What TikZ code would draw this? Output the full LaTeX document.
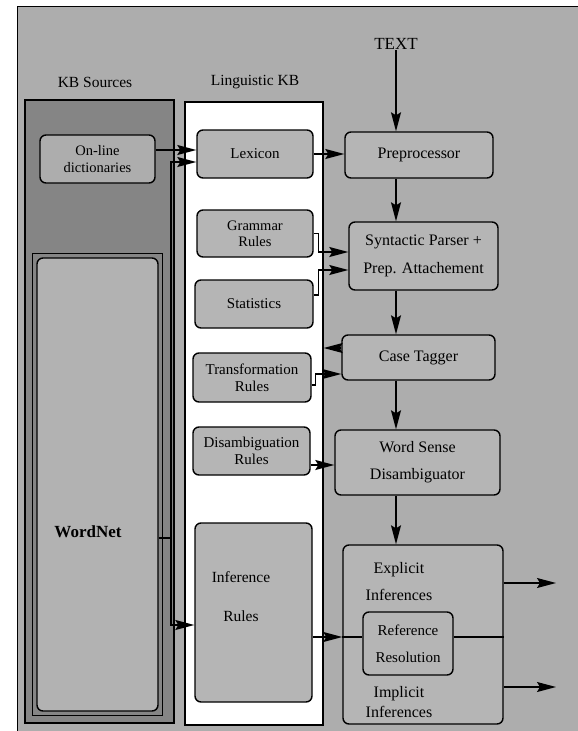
\documentclass[tikz,border=0pt]{standalone}
\usepackage{fontspec}
\setmainfont{Liberation Serif}
\usetikzlibrary{arrows.meta,calc,fit}
\definecolor{bgc}{gray}{0.68}
\definecolor{kbc}{gray}{0.52}
\definecolor{boxc}{gray}{0.71}
\definecolor{wnc}{gray}{0.70}
\begin{document}
\begin{tikzpicture}[x=1pt,y=-1pt,
  sz/.style 2 args={minimum width=#1pt, minimum height=#2pt},
  box/.style={draw, line width=1.4pt, rounded corners=6pt, fill=boxc, align=center, inner sep=0pt, font=\fontsize{15}{17}\selectfont},
  big/.style={font=\fontsize{16}{18}\selectfont},
  small/.style={font=\fontsize{14.5}{16}\selectfont},
  arr/.style={line width=1.3pt, -{Stealth[length=19pt,width=10pt,inset=3pt]}},
  ln/.style={line width=1.3pt},
  lbl/.style={font=\fontsize{15.5}{18}\selectfont, inner sep=0pt, align=center}]

\useasboundingbox (0,0) rectangle (578,731);
\fill[bgc] (17,6) rectangle (578,731);
\draw[line width=1pt] (17,731) -- (17,6) -- (578,6);

% column frames
\node[draw, line width=1.3pt, fill=kbc, sz={149}{623}] (kbsrc) at (99.5,411.5) {};
\node[draw, line width=1.3pt, fill=white, sz={138}{623}] (ling) at (254,413.5) {};

% labels
\node[lbl] (kbsrclbl) at (95,82) {KB Sources};
\node[lbl] (linglbl) at (255,82) {Linguistic KB};
\node[lbl, font=\fontsize{17}{20}\selectfont] (text) at (396,44) {TEXT};

% KB sources
\node[box, small, sz={115}{48}, fill=bgc] (online) at (97.5,159) {On-line\\[1pt]dictionaries};
\node[box, sz={121}{453}, fill=wnc] (wordnet) at (97.5,484.5) {};
\node[draw, line width=1.3pt, fit=(wordnet), inner sep=4pt] (wnframe) {};
\node[lbl, font=\bfseries\fontsize{17}{20}\selectfont] (wnlbl) at (88,532) {WordNet};

% Linguistic KB
\node[box, sz={116}{48}] (lexicon) at (255,154) {Lexicon};
\node[box, small, sz={116}{47}] (grammar) at (255,233.5) {Grammar\\Rules};
\node[box, sz={118}{48}] (stats) at (254,304) {Statistics};
\node[box, sz={118}{49}] (trans) at (252,377.5) {Transformation\\Rules};
\node[box, sz={117}{48}] (disamb) at (251.5,451) {Disambiguation\\Rules};
\node[box, sz={117}{179}] (infrules) at (253.5,612.5) {};
\node[lbl] (infrulestxt) at (241,597) {Inference\\[21pt]Rules};

% processing chain
\node[box, big, sz={148}{46}] (preproc) at (419,155) {Preprocessor};
\node[box, big, sz={149}{68}] (parser) at (423.5,256) {Syntactic Parser +\\[10pt]Prep. Attachement};
\node[box, big, sz={153}{45}] (tagger) at (418.5,357.5) {Case Tagger};
\node[box, big, sz={165}{65}] (wsd) at (417.5,462.5) {Word Sense\\[9pt]Disambiguator};
\node[box, sz={160}{179}] (infbox) at (423,634.5) {};
\node[box, sz={90}{63}] (refres) at (408,643.5) {Reference\\[10pt]Resolution};
\node[lbl, big] (explicit) at (399,581.5) {Explicit\\[9pt]Inferences};
\node[lbl, big] (implicit) at (399,702) {Implicit\\[2pt]Inferences};

% main chain
\draw[arr] (text) -- (text |- preproc.north);
\draw[arr] (preproc.south -| text) -- (parser.north -| text);
\draw[arr] (parser.south -| text) -- (tagger.north -| text);
\draw[arr] (tagger.south -| text) -- (wsd.north -| text);
\draw[arr] (wsd.south -| text) -- (infbox.north -| text);

% KB sources -> linguistic KB
\coordinate (lexin1) at ($(lexicon.west)+(0,-4)$);
\draw[arr] (online.east |- lexin1) -- (lexin1);
\coordinate (bus) at (171,538);
\draw[ln] (wordnet.east |- bus) -- (bus);
\coordinate (lexin2) at ($(lexicon.west)+(0,8)$);
\draw[arr] (bus) |- (lexin2);
\coordinate (irin) at ($(infrules.west)+(0,12.5)$);
\draw[arr] (bus) |- (irin);

% linguistic KB -> chain
\draw[arr] (lexicon.east) -- (lexicon.east -| preproc.west);
\coordinate (pin1) at ($(parser.west)+(0,-4)$);
\coordinate (pin2) at ($(parser.west)+(0,14)$);
\draw[arr] (grammar.east) -- ++(5,0) |- (pin1);
\draw[arr] ($(stats.east)+(0,-9)$) -- ++(5,0) |- (pin2);
\coordinate (tout) at ($(tagger.west)+(0,-9.5)$);
\draw[arr] (tout) -- (ling.east |- tout);
\coordinate (tin) at ($(tagger.west)+(0,16.5)$);
\draw[arr] ($(trans.east)+(0,7.5)$) -- ++(4,0) |- (tin);
\coordinate (win) at ($(wsd.west)+(0,2.5)$);
\draw[arr] (disamb.east |- win) -- (win);
\coordinate (rin) at ($(refres.west)+(0,-6.5)$);
\draw[arr] (infrules.east |- rin) -- (infbox.west |- rin);
\draw[ln] (infbox.west |- rin) -- (rin);
\draw[ln] (refres.east |- rin) -- (infbox.east |- rin);

% outputs
\coordinate (o1) at (556,583);
\coordinate (o2) at (556,687);
\draw[arr] (infbox.east |- o1) -- (o1);
\draw[arr] (infbox.east |- o2) -- (o2);
\end{tikzpicture}
\end{document}
